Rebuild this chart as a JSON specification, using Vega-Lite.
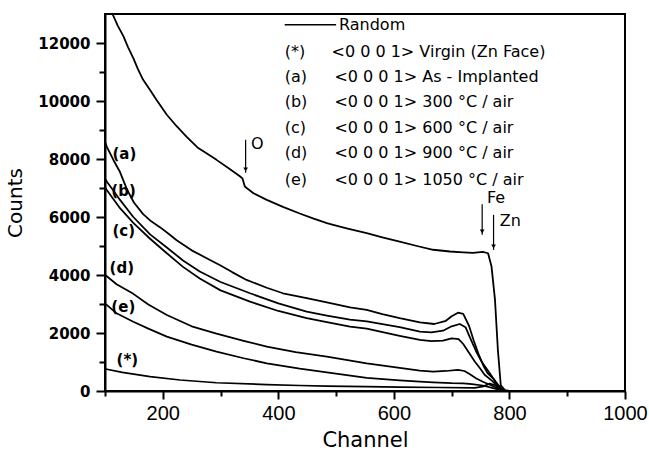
{
  "$schema": "https://vega.github.io/schema/vega-lite/v6.json",
  "width": 520,
  "height": 377,
  "autosize": {"type": "none"},
  "padding": {"left": 105, "top": 14, "right": 24, "bottom": 66},
  "background": "white",
  "config": {
    "view": {"stroke": "black", "strokeWidth": 2},
    "axis": {"grid": false, "domainColor": "black", "tickColor": "black", "labelColor": "black", "titleColor": "black", "domainWidth": 2, "tickWidth": 2}
  },
  "datasets": {
    "curves": [
      {"series": "Random", "ch": 101, "counts": 13500}, {"series": "Random", "ch": 113, "counts": 13000}, {"series": "Random", "ch": 122, "counts": 12600}, {"series": "Random", "ch": 132, "counts": 12230}, {"series": "Random", "ch": 140, "counts": 11850}, {"series": "Random", "ch": 149, "counts": 11480}, {"series": "Random", "ch": 157, "counts": 11100}, {"series": "Random", "ch": 166, "counts": 10730}, {"series": "Random", "ch": 178, "counts": 10380}, {"series": "Random", "ch": 189, "counts": 10040}, {"series": "Random", "ch": 207, "counts": 9525}, {"series": "Random", "ch": 224, "counts": 9130}, {"series": "Random", "ch": 241, "counts": 8775}, {"series": "Random", "ch": 260, "counts": 8400}, {"series": "Random", "ch": 277, "counts": 8180}, {"series": "Random", "ch": 293, "counts": 7970}, {"series": "Random", "ch": 314, "counts": 7680}, {"series": "Random", "ch": 334, "counts": 7395}, {"series": "Random", "ch": 338, "counts": 7330}, {"series": "Random", "ch": 342, "counts": 7050}, {"series": "Random", "ch": 348, "counts": 6960}, {"series": "Random", "ch": 357, "counts": 6820}, {"series": "Random", "ch": 380, "counts": 6590}, {"series": "Random", "ch": 408, "counts": 6350}, {"series": "Random", "ch": 437, "counts": 6120}, {"series": "Random", "ch": 460, "counts": 5950}, {"series": "Random", "ch": 484, "counts": 5790}, {"series": "Random", "ch": 495, "counts": 5730}, {"series": "Random", "ch": 520, "counts": 5600}, {"series": "Random", "ch": 553, "counts": 5440}, {"series": "Random", "ch": 580, "counts": 5300}, {"series": "Random", "ch": 610, "counts": 5150}, {"series": "Random", "ch": 640, "counts": 5000}, {"series": "Random", "ch": 668, "counts": 4870}, {"series": "Random", "ch": 697, "counts": 4810}, {"series": "Random", "ch": 720, "counts": 4780}, {"series": "Random", "ch": 737, "counts": 4760}, {"series": "Random", "ch": 754, "counts": 4800}, {"series": "Random", "ch": 763, "counts": 4750}, {"series": "Random", "ch": 769, "counts": 4290}, {"series": "Random", "ch": 775, "counts": 3140}, {"series": "Random", "ch": 780, "counts": 1415}, {"series": "Random", "ch": 785, "counts": 200}, {"series": "Random", "ch": 792, "counts": 30}, {"series": "Random", "ch": 800, "counts": 0}, {"series": "Random", "ch": 840, "counts": 0},

      {"series": "a", "ch": 101, "counts": 8550}, {"series": "a", "ch": 103, "counts": 8430}, {"series": "a", "ch": 115, "counts": 7950}, {"series": "a", "ch": 126, "counts": 7550}, {"series": "a", "ch": 138, "counts": 6950}, {"series": "a", "ch": 150, "counts": 6500}, {"series": "a", "ch": 166, "counts": 6100}, {"series": "a", "ch": 180, "counts": 5850}, {"series": "a", "ch": 195, "counts": 5650}, {"series": "a", "ch": 210, "counts": 5420}, {"series": "a", "ch": 224, "counts": 5200}, {"series": "a", "ch": 250, "counts": 4850}, {"series": "a", "ch": 276, "counts": 4580}, {"series": "a", "ch": 300, "counts": 4330}, {"series": "a", "ch": 320, "counts": 4100}, {"series": "a", "ch": 345, "counts": 3830}, {"series": "a", "ch": 380, "counts": 3560}, {"series": "a", "ch": 408, "counts": 3370}, {"series": "a", "ch": 449, "counts": 3200}, {"series": "a", "ch": 484, "counts": 3060}, {"series": "a", "ch": 524, "counts": 2880}, {"series": "a", "ch": 553, "counts": 2795}, {"series": "a", "ch": 580, "counts": 2650}, {"series": "a", "ch": 610, "counts": 2510}, {"series": "a", "ch": 645, "counts": 2370}, {"series": "a", "ch": 670, "counts": 2310}, {"series": "a", "ch": 690, "counts": 2420}, {"series": "a", "ch": 700, "counts": 2580}, {"series": "a", "ch": 711, "counts": 2700}, {"series": "a", "ch": 720, "counts": 2660}, {"series": "a", "ch": 730, "counts": 2250}, {"series": "a", "ch": 738, "counts": 1750}, {"series": "a", "ch": 746, "counts": 1300}, {"series": "a", "ch": 755, "counts": 870}, {"series": "a", "ch": 762, "counts": 620}, {"series": "a", "ch": 772, "counts": 430}, {"series": "a", "ch": 780, "counts": 220}, {"series": "a", "ch": 788, "counts": 40}, {"series": "a", "ch": 795, "counts": 0}, {"series": "a", "ch": 810, "counts": 0},

      {"series": "b", "ch": 101, "counts": 7300}, {"series": "b", "ch": 103, "counts": 7225}, {"series": "b", "ch": 115, "counts": 6900}, {"series": "b", "ch": 126, "counts": 6590}, {"series": "b", "ch": 149, "counts": 6000}, {"series": "b", "ch": 178, "counts": 5400}, {"series": "b", "ch": 207, "counts": 4950}, {"series": "b", "ch": 235, "counts": 4500}, {"series": "b", "ch": 264, "counts": 4120}, {"series": "b", "ch": 300, "counts": 3760}, {"series": "b", "ch": 351, "counts": 3370}, {"series": "b", "ch": 400, "counts": 3020}, {"series": "b", "ch": 449, "counts": 2735}, {"series": "b", "ch": 484, "counts": 2600}, {"series": "b", "ch": 524, "counts": 2460}, {"series": "b", "ch": 553, "counts": 2400}, {"series": "b", "ch": 610, "counts": 2200}, {"series": "b", "ch": 645, "counts": 2045}, {"series": "b", "ch": 665, "counts": 2020}, {"series": "b", "ch": 685, "counts": 2080}, {"series": "b", "ch": 700, "counts": 2230}, {"series": "b", "ch": 714, "counts": 2310}, {"series": "b", "ch": 724, "counts": 2200}, {"series": "b", "ch": 731, "counts": 1875}, {"series": "b", "ch": 742, "counts": 1380}, {"series": "b", "ch": 752, "counts": 1010}, {"series": "b", "ch": 766, "counts": 610}, {"series": "b", "ch": 778, "counts": 250}, {"series": "b", "ch": 788, "counts": 30}, {"series": "b", "ch": 795, "counts": 0}, {"series": "b", "ch": 810, "counts": 0},

      {"series": "c", "ch": 101, "counts": 7000}, {"series": "c", "ch": 103, "counts": 6935}, {"series": "c", "ch": 115, "counts": 6600}, {"series": "c", "ch": 126, "counts": 6305}, {"series": "c", "ch": 149, "counts": 5800}, {"series": "c", "ch": 178, "counts": 5250}, {"series": "c", "ch": 207, "counts": 4750}, {"series": "c", "ch": 235, "counts": 4280}, {"series": "c", "ch": 264, "counts": 3880}, {"series": "c", "ch": 300, "counts": 3470}, {"series": "c", "ch": 351, "counts": 3080}, {"series": "c", "ch": 400, "counts": 2760}, {"series": "c", "ch": 449, "counts": 2510}, {"series": "c", "ch": 484, "counts": 2375}, {"series": "c", "ch": 524, "counts": 2220}, {"series": "c", "ch": 553, "counts": 2150}, {"series": "c", "ch": 610, "counts": 1900}, {"series": "c", "ch": 645, "counts": 1760}, {"series": "c", "ch": 665, "counts": 1720}, {"series": "c", "ch": 685, "counts": 1740}, {"series": "c", "ch": 700, "counts": 1815}, {"series": "c", "ch": 712, "counts": 1790}, {"series": "c", "ch": 720, "counts": 1620}, {"series": "c", "ch": 730, "counts": 1320}, {"series": "c", "ch": 740, "counts": 1020}, {"series": "c", "ch": 750, "counts": 760}, {"series": "c", "ch": 757, "counts": 560}, {"series": "c", "ch": 770, "counts": 350}, {"series": "c", "ch": 780, "counts": 150}, {"series": "c", "ch": 788, "counts": 20}, {"series": "c", "ch": 795, "counts": 0}, {"series": "c", "ch": 810, "counts": 0},

      {"series": "d", "ch": 101, "counts": 3990}, {"series": "d", "ch": 120, "counts": 3680}, {"series": "d", "ch": 149, "counts": 3350}, {"series": "d", "ch": 175, "counts": 2980}, {"series": "d", "ch": 207, "counts": 2620}, {"series": "d", "ch": 250, "counts": 2230}, {"series": "d", "ch": 293, "counts": 1980}, {"series": "d", "ch": 340, "counts": 1730}, {"series": "d", "ch": 380, "counts": 1530}, {"series": "d", "ch": 430, "counts": 1340}, {"series": "d", "ch": 484, "counts": 1185}, {"series": "d", "ch": 553, "counts": 950}, {"series": "d", "ch": 610, "counts": 800}, {"series": "d", "ch": 645, "counts": 700}, {"series": "d", "ch": 668, "counts": 665}, {"series": "d", "ch": 690, "counts": 690}, {"series": "d", "ch": 711, "counts": 725}, {"series": "d", "ch": 722, "counts": 690}, {"series": "d", "ch": 731, "counts": 585}, {"series": "d", "ch": 742, "counts": 440}, {"series": "d", "ch": 754, "counts": 320}, {"series": "d", "ch": 770, "counts": 180}, {"series": "d", "ch": 783, "counts": 60}, {"series": "d", "ch": 790, "counts": 0}, {"series": "d", "ch": 810, "counts": 0},

      {"series": "e", "ch": 101, "counts": 3000}, {"series": "e", "ch": 103, "counts": 2970}, {"series": "e", "ch": 120, "counts": 2680}, {"series": "e", "ch": 149, "counts": 2390}, {"series": "e", "ch": 175, "counts": 2150}, {"series": "e", "ch": 207, "counts": 1875}, {"series": "e", "ch": 250, "counts": 1600}, {"series": "e", "ch": 293, "counts": 1360}, {"series": "e", "ch": 340, "counts": 1130}, {"series": "e", "ch": 380, "counts": 955}, {"series": "e", "ch": 437, "counts": 770}, {"series": "e", "ch": 484, "counts": 640}, {"series": "e", "ch": 553, "counts": 450}, {"series": "e", "ch": 610, "counts": 370}, {"series": "e", "ch": 645, "counts": 320}, {"series": "e", "ch": 668, "counts": 295}, {"series": "e", "ch": 700, "counts": 270}, {"series": "e", "ch": 720, "counts": 265}, {"series": "e", "ch": 735, "counts": 240}, {"series": "e", "ch": 754, "counts": 190}, {"series": "e", "ch": 770, "counts": 110}, {"series": "e", "ch": 783, "counts": 40}, {"series": "e", "ch": 790, "counts": 0}, {"series": "e", "ch": 810, "counts": 0},

      {"series": "*", "ch": 101, "counts": 760}, {"series": "*", "ch": 130, "counts": 640}, {"series": "*", "ch": 178, "counts": 495}, {"series": "*", "ch": 230, "counts": 380}, {"series": "*", "ch": 293, "counts": 285}, {"series": "*", "ch": 380, "counts": 220}, {"series": "*", "ch": 437, "counts": 190}, {"series": "*", "ch": 484, "counts": 170}, {"series": "*", "ch": 553, "counts": 150}, {"series": "*", "ch": 610, "counts": 135}, {"series": "*", "ch": 680, "counts": 120}, {"series": "*", "ch": 740, "counts": 110}, {"series": "*", "ch": 755, "counts": 160}, {"series": "*", "ch": 766, "counts": 260}, {"series": "*", "ch": 775, "counts": 200}, {"series": "*", "ch": 785, "counts": 40}, {"series": "*", "ch": 792, "counts": 0}, {"series": "*", "ch": 810, "counts": 0}
    ],
    "curveLabels": [
      {"t": "(a)", "ch": 113, "counts": 8180},
      {"t": "(b)", "ch": 111, "counts": 6900},
      {"t": "(c)", "ch": 113, "counts": 5505},
      {"t": "(d)", "ch": 108, "counts": 4245},
      {"t": "(e)", "ch": 111, "counts": 2880},
      {"t": "(*)", "ch": 120, "counts": 1070}
    ],
    "legendText": [
      {"t": "Random", "ch": 505, "counts": 12630},
      {"t": "(*)", "ch": 411, "counts": 11700},
      {"t": "(a)", "ch": 411, "counts": 10837},
      {"t": "(b)", "ch": 411, "counts": 9974},
      {"t": "(c)", "ch": 411, "counts": 9076},
      {"t": "(d)", "ch": 411, "counts": 8214},
      {"t": "(e)", "ch": 411, "counts": 7282},
      {"t": "<0 0 0 1> Virgin (Zn Face)", "ch": 492, "counts": 11700},
      {"t": "<0 0 0 1> As - Implanted", "ch": 497, "counts": 10837},
      {"t": "<0 0 0 1> 300 °C / air", "ch": 497, "counts": 9974},
      {"t": "<0 0 0 1> 600 °C / air", "ch": 497, "counts": 9076},
      {"t": "<0 0 0 1> 900 °C / air", "ch": 497, "counts": 8214},
      {"t": "<0 0 0 1> 1050 °C / air", "ch": 497, "counts": 7282},
      {"t": "O", "ch": 352.6, "counts": 8525},
      {"t": "Fe", "ch": 761, "counts": 6650},
      {"t": "Zn", "ch": 783.4, "counts": 5866}
    ],
    "legendLine": [{"ch": 411, "ch2": 500, "counts": 12630}],
    "arrows": [
      {"ch": 343.4, "c1": 8663, "c2": 7524, "tip": 7640},
      {"ch": 752.8, "c1": 6440, "c2": 5384, "tip": 5500},
      {"ch": 772.5, "c1": 6074, "c2": 4866, "tip": 4980}
    ]
  },
  "layer": [
    {
      "data": {"name": "curves"},
      "mark": {"type": "line", "clip": true, "color": "black", "strokeJoin": "round"},
      "encoding": {
        "x": {"field": "ch", "type": "quantitative", "scale": {"domain": [100, 1000], "nice": false, "zero": false},
          "axis": {"orient": "bottom", "values": [200, 400, 600, 800, 1000], "format": "d", "tickSize": 8, "labelFont": "Liberation Sans", "labelFontSize": 20, "labelFontWeight": "normal", "labelPadding": 4, "labelOverlap": false, "labelFlush": false, "labelBound": false, "title": "Channel", "titleFont": "DejaVu Sans", "titleFontSize": 21, "titleFontWeight": "normal", "titlePadding": 6}},
        "y": {"field": "counts", "type": "quantitative", "scale": {"domain": [0, 13000], "nice": false},
          "axis": {"orient": "left", "values": [0, 2000, 4000, 6000, 8000, 10000, 12000], "format": "d", "tickSize": 9, "labelFont": "DejaVu Sans", "labelFontSize": 15, "labelFontWeight": "bold", "labelPadding": 6, "labelOverlap": false, "labelFlush": false, "title": "Counts", "titleFont": "DejaVu Sans", "titleFontSize": 20, "titleFontWeight": "normal", "titlePadding": 12}},
        "detail": {"field": "series", "type": "nominal"},
        "strokeWidth": {"field": "series", "type": "nominal", "scale": {"domain": ["Random", "a", "b", "c", "d", "e", "*"], "range": [1.8, 1.7, 1.5, 1.5, 1.2, 1.2, 1.2]}, "legend": null}
      }
    },
    {
      "data": {"name": "curveLabels"},
      "mark": {"type": "text", "align": "left", "baseline": "middle", "font": "DejaVu Sans", "fontSize": 15, "fontWeight": "bold", "color": "black"},
      "encoding": {
        "x": {"field": "ch", "type": "quantitative", "axis": {"orient": "bottom", "values": [100, 300, 500, 700, 900], "tickSize": 5, "labels": false, "domain": false, "title": null, "grid": false}},
        "y": {"field": "counts", "type": "quantitative", "axis": {"orient": "left", "values": [1000, 3000, 5000, 7000, 9000, 11000], "tickSize": 6, "labels": false, "domain": false, "title": null, "grid": false}},
        "text": {"field": "t"}
      }
    },
    {
      "data": {"name": "legendText"},
      "mark": {"type": "text", "align": "left", "baseline": "middle", "font": "DejaVu Sans", "fontSize": 16, "color": "black"},
      "encoding": {
        "x": {"field": "ch", "type": "quantitative", "axis": null},
        "y": {"field": "counts", "type": "quantitative", "axis": null},
        "text": {"field": "t"}
      }
    },
    {
      "data": {"name": "legendLine"},
      "mark": {"type": "rule", "color": "black", "strokeWidth": 1.3},
      "encoding": {
        "x": {"field": "ch", "type": "quantitative", "axis": null},
        "x2": {"field": "ch2"},
        "y": {"field": "counts", "type": "quantitative", "axis": null}
      }
    },
    {
      "data": {"name": "arrows"},
      "mark": {"type": "rule", "color": "black", "strokeWidth": 1.2},
      "encoding": {
        "x": {"field": "ch", "type": "quantitative", "axis": null},
        "y": {"field": "c1", "type": "quantitative", "axis": null},
        "y2": {"field": "c2"}
      }
    },
    {
      "data": {"name": "arrows"},
      "mark": {"type": "point", "shape": "triangle-down", "filled": true, "color": "black", "size": 22, "opacity": 1},
      "encoding": {
        "x": {"field": "ch", "type": "quantitative", "axis": null},
        "y": {"field": "tip", "type": "quantitative", "axis": null}
      }
    }
  ],
  "resolve": {"axis": {"x": "independent", "y": "independent"}}
}
